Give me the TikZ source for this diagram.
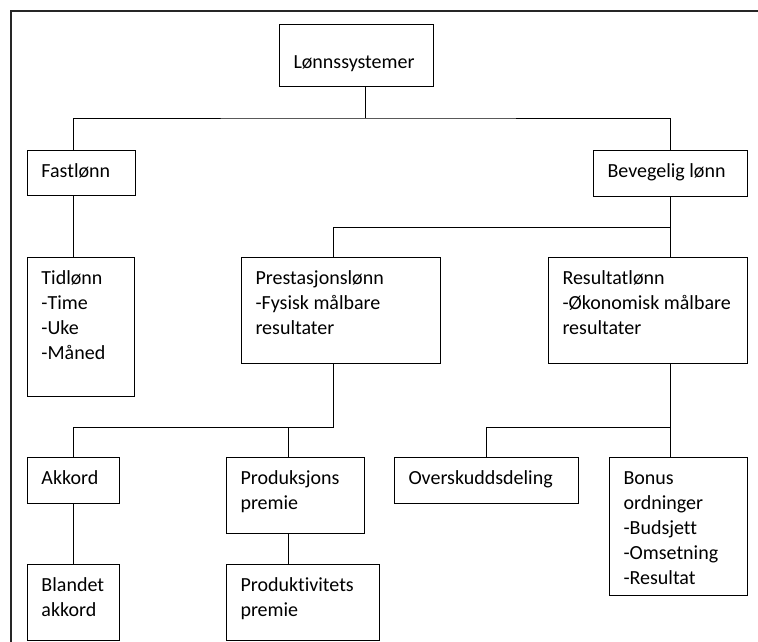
\documentclass[tikz,border=0pt]{standalone}
\usepackage{fontspec}
\setmainfont[Ligatures={NoCommon}]{Carlito}
\usepackage{tikz}
\usetikzlibrary{calc}
\hyphenpenalty=10000
\exhyphenpenalty=10000
\tikzstyle{lbox}=[draw,line width=1pt,anchor=north west,align=flush left,inner xsep=14pt,inner ysep=0pt,text height=27pt,font=\fontsize{20}{25}\selectfont]
\tikzstyle{link}=[line width=1pt]
\tikzset{boxsize/.style 2 args={text width=#1,text depth=#2}}

\begin{document}
\begin{tikzpicture}[x=1pt,y=-1pt]
  \useasboundingbox (0,0) rectangle (758,642);
  \clip (0,0) rectangle (758,642);
  \draw[line width=2pt,black!85] (11,660) -- (11,11) -- (780,11);
  \node[lbox,boxsize={126pt}{18pt},text height=44pt] (lonn) at (279,24) {Lønnssystemer};
  \node[lbox,boxsize={80pt}{18pt}] (fast) at (27,150) {Fastlønn};
  \node[lbox,boxsize={126pt}{19pt}] (bev) at (593,150) {Bevegelig lønn};
  \node[lbox,boxsize={79pt}{112pt}] (tid) at (27,257) {Tidlønn\\-Time\\-Uke\\-Måned};
  \node[lbox,boxsize={171pt}{79pt}] (pre) at (241,257) {Prestasjonslønn\\-Fysisk målbare\\resultater};
  \node[lbox,boxsize={171pt}{79pt}] (res) at (548,257) {Resultatlønn\\-Økonomisk~målbare\\resultater};
  \node[lbox,boxsize={64pt}{19pt}] (akk) at (27,457) {Akkord};
  \node[lbox,boxsize={110pt}{49pt}] (prod) at (226,457) {Produksjons\\premie};
  \node[lbox,boxsize={156pt}{19pt}] (over) at (394,457) {Overskuddsdeling};
  \node[lbox,boxsize={110pt}{111pt}] (bon) at (609,457) {Bonus\\ordninger\\-Budsjett\\-Omsetning\\-Resultat};
  \node[lbox,boxsize={64pt}{49pt}] (bla) at (27,564) {Blandet\\akkord};
  \node[lbox,boxsize={125pt}{49pt}] (prdk) at (226,564) {Produktivitets\\premie};
  \coordinate (b1) at (365,118);
  \coordinate (b2) at (333,227);
  \coordinate (b3) at (333,427);
  \coordinate (b4) at (288,427);
  \draw[link] (lonn.south -| b1) -- (b1);
  \draw[link] (fast.north -| akk.center) |- (b1) -| (bev.north);
  \draw[link] (fast.south -| akk.center) -- (tid.north -| akk.center);
  \draw[link] (bev.south) -- (res.north -| bev.south);
  \draw[link] (pre.north -| b2) -- (b2) -- (b2 -| bev.south);
  \draw[link] (pre.south -| b3) -- (b3) -| (akk.north);
  \draw[link] (b4) -- (prod.north -| b4);
  \draw[link] (res.south -| bev.south) -- (bon.north -| bev.south);
  \draw[link] (over.north) |- (b3 -| bev.south);
  \draw[link] (akk.south) -- (bla.north);
  \draw[link] (prod.south -| b4) -- (prdk.north -| b4);
\end{tikzpicture}
\end{document}
